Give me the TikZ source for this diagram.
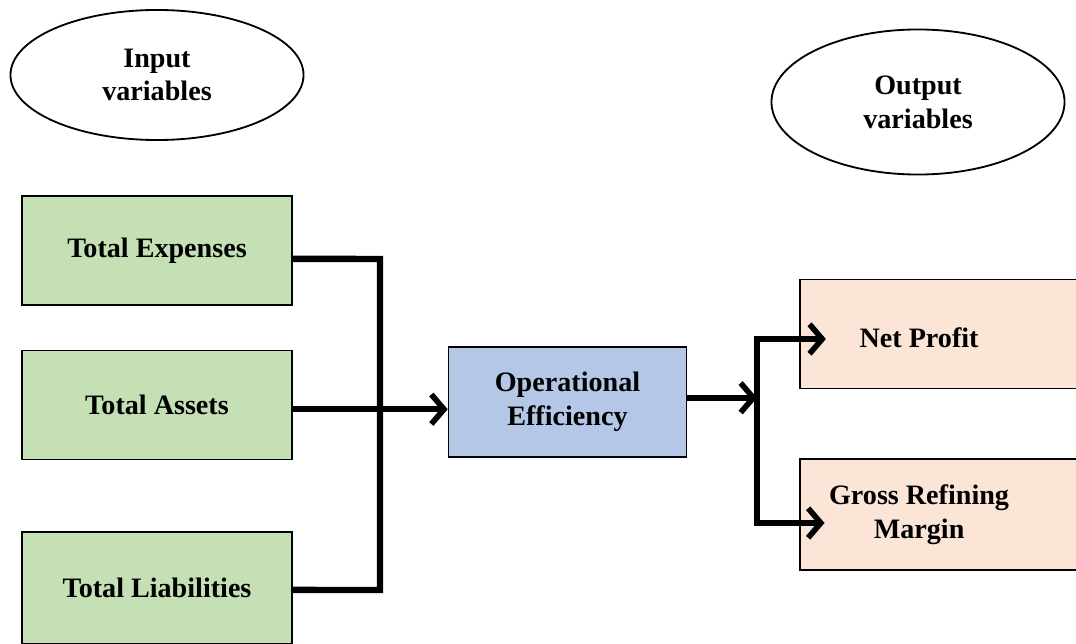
\documentclass[tikz,border=0pt]{standalone}
\usepackage{fontspec}
\setmainfont{Liberation Serif}
\usepackage{xcolor}
\usetikzlibrary{shapes.geometric,arrows.meta,positioning}
\definecolor{ingreen}{HTML}{C5E0B4}
\definecolor{effblue}{HTML}{B4C7E7}
\definecolor{outpeach}{HTML}{FBE5D6}

\begin{document}
\begin{tikzpicture}[x=0.025cm, y=-0.025cm, font=\bfseries\fontsize{20}{24}\selectfont,
    var/.style = {draw, ellipse, line width=1.3pt, inner sep=0pt, align=center, minimum width=7.325cm},
    main/.style = {draw, rectangle, line width=1.1pt, align=center, minimum width=6.75cm, minimum height=2.725cm},
    link/.style = {line width=4.6pt},
    tip/.style = {link, -{Straight Barb[length=9pt,width=21pt,line width=4pt]}}]
    \useasboundingbox (0,0) rectangle (1076,643);
    \clip (0,0) rectangle (1076,643);
    \node[var, minimum height=3.25cm] (inp) at (157,75) {Input\\variables};
    \node[var, minimum height=3.625cm] (outp) at (918,102) {Output\\variables};
    \node[main, fill=ingreen] (exp) at (157,250.5) {Total Expenses};
    \node[main, fill=ingreen] (ast) at (157,405) {Total Assets};
    \node[main, fill=ingreen, minimum height=2.8cm] (lia) at (157,588) {Total Liabilities};
    \node[main, fill=effblue, minimum width=5.95cm, minimum height=2.75cm] (eff) at (567.5,402) {Operational\\Efficiency};
    \node[main, fill=outpeach, minimum width=7.5cm, label={[xshift=-22pt, yshift=-3pt]center:Net Profit}] (np) at (950,334) {};
    \node[main, fill=outpeach, minimum width=7.5cm, minimum height=2.775cm, label={[xshift=-22pt, align=center]center:Gross Refining\\Margin}] (grm) at (950,514.5) {};
    % inputs to bus
    \coordinate (busT) at (380,259);
    \coordinate (busB) at (380,590);
    \draw[link] ([yshift=-6pt]exp.east) -- (busT) -- (busB) -- ([yshift=-1.4pt]lia.east);
    \draw[tip] ([yshift=-3pt]ast.east) -- ([yshift=-3pt]ast.east -| eff.west);
    % outputs
    \coordinate (splitT) at (757,339);
    \coordinate (splitB) at (757,523);
    \draw[tip] ([yshift=3pt]eff.east) -- ([yshift=3pt]eff.east -| splitT);
    \draw[tip] ([xshift=-2.3pt]splitT) -- ([xshift=19pt]np.west |- splitT);
    \draw[tip] (splitT) -- (splitB) -- ([xshift=18pt]grm.west |- splitB);
\end{tikzpicture}
\end{document}
